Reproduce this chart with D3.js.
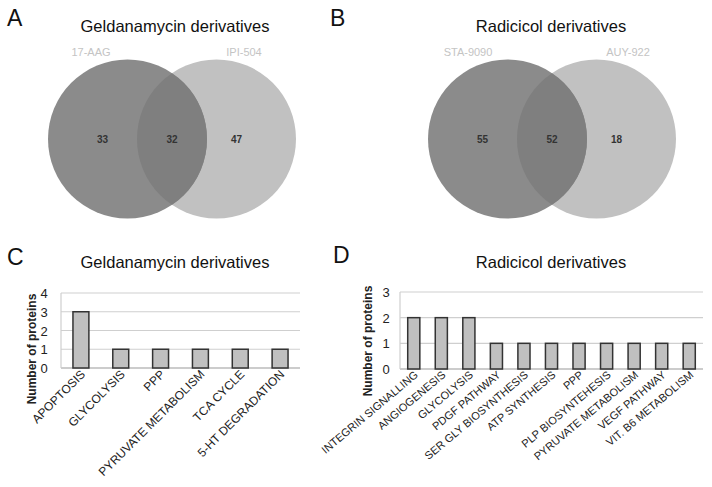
<!DOCTYPE html>
<html><head><meta charset="utf-8">
<script src="https://cdn.jsdelivr.net/npm/d3@7"></script>
<style>body{margin:0;background:#fff}svg{display:block;font-family:Arial,"Liberation Sans",sans-serif}</style>
</head><body><svg id="c" width="712" height="487"></svg>
<script>
// Venn data
const vennA = {title:"Geldanamycin derivatives", sets:["17-AAG","IPI-504"], counts:[33,32,47]};
const vennB = {title:"Radicicol derivatives", sets:["STA-9090","AUY-922"], counts:[55,52,18]};
// Bar data
const catsC = ["APOPTOSIS","GLYCOLYSIS","PPP","PYRUVATE METABOLISM","TCA CYCLE","5-HT DEGRADATION"];
const valsC = [3,1,1,1,1,1];
const ticksC = [0,1,2,3,4];
const catsD = ["INTEGRIN SIGNALLING","ANGIOGENESIS","GLYCOLYSIS","PDGF PATHWAY","SER GLY BIOSYNTHESIS","ATP SYNTHESIS","PPP","PLP BIOSYNTEHESIS","PYRUVATE METABOLISM","VEGF PATHWAY","VIT. B6 METABOLISM"];
const valsD = [2,2,2,1,1,1,1,1,1,1,1];
const ticksD = [0,1,2,3];

const svg = d3.select("#c");

// panel letters
[["A",7,26],["B",330,26],["C",7,265],["D",333,263]].forEach(([t,x,y])=>{
  svg.append("text").attr("x",x).attr("y",y).attr("font-size",23).attr("fill","#111").text(t);
});

function venn(d, cx, titleX, setX){
  const g = svg.append("g");
  g.append("text").attr("x",titleX).attr("y",32).attr("text-anchor","middle").attr("font-size",16.5).attr("fill","#111").text(d.title);
  const r = 79.5, cy = 139, dx = 89;
  const c1 = cx - dx/2, c2 = cx + dx/2;
  const id = "clip"+Math.round(cx);
  g.append("clipPath").attr("id",id).append("circle").attr("cx",c2).attr("cy",cy).attr("r",r);
  g.append("circle").attr("cx",c2).attr("cy",cy).attr("r",r).attr("fill","#c1c1c1");
  g.append("circle").attr("cx",c1).attr("cy",cy).attr("r",r).attr("fill","#8b8b8b");
  g.append("circle").attr("cx",c1).attr("cy",cy).attr("r",r).attr("fill","#7f7f7f").attr("clip-path",`url(#${id})`);
  g.append("text").attr("x",setX[0]).attr("y",56).attr("text-anchor","middle").attr("font-size",11).attr("fill","#c4c4c4").text(d.sets[0]);
  g.append("text").attr("x",setX[1]).attr("y",56).attr("text-anchor","middle").attr("font-size",11).attr("fill","#c4c4c4").text(d.sets[1]);
  const nx = [c1 - 25, cx, c2 + 20];
  d.counts.forEach((v,i)=>{
    g.append("text").attr("x",nx[i]).attr("y",cy+4).attr("text-anchor","middle").attr("font-size",10).attr("font-weight","bold").attr("fill","#333").text(v);
  });
}
venn(vennA, 172, 175, [91, 244]);
venn(vennB, 552, 551, [468, 628]);

function bars(title, titleX, cats, vals, ticks, x0, x1, yTop, yBot, ylabX, ylabY, barPad, tickX, labFont, labAngle){
  const g = svg.append("g");
  g.append("text").attr("x",titleX).attr("y",268).attr("text-anchor","middle").attr("font-size",16.5).attr("fill","#111").text(title);
  const x = d3.scaleBand().domain(cats).range([x0,x1]).paddingInner(barPad).paddingOuter(barPad/2);
  const y = d3.scaleLinear().domain([0, d3.max(ticks)]).range([yBot,yTop]);
  ticks.forEach(t=>{
    g.append("line").attr("x1",x0).attr("x2",x1).attr("y1",y(t)).attr("y2",y(t)).attr("stroke",t===0?"#9a9a9a":"#cfcfcf").attr("stroke-width",1.2);
    g.append("text").attr("x",tickX).attr("y",y(t)+5).attr("text-anchor","middle").attr("font-size",13).attr("fill","#222").text(t);
  });
  g.append("line").attr("x1",x0).attr("x2",x0).attr("y1",yTop).attr("y2",yBot).attr("stroke","#cfcfcf").attr("stroke-width",1.2);
  g.selectAll("rect.b").data(cats).enter().append("rect")
    .attr("x",d=>x(d)).attr("width",x.bandwidth())
    .attr("y",(d,i)=>y(vals[i])).attr("height",(d,i)=>yBot - y(vals[i]))
    .attr("fill","#c0c0c0").attr("stroke","#333").attr("stroke-width",1.5);
  cats.forEach(c=>{
    const cxp = x(c)+x.bandwidth()/2 + 5;
    g.append("text").attr("transform",`translate(${cxp},${yBot+7}) rotate(${-labAngle})`)
      .attr("text-anchor","end").attr("font-size",labFont).attr("fill","#222").text(c);
  });
  g.append("text").attr("transform",`translate(${ylabX},${ylabY}) rotate(-90)`)
    .attr("text-anchor","middle").attr("font-size",12).attr("font-weight","bold").attr("fill","#222").text("Number of proteins");
}
bars("Geldanamycin derivatives", 175, catsC, valsC, ticksC, 61, 300, 293, 368, 36, 349, 0.6, 44, 12, 45);
bars("Radicicol derivatives", 551, catsD, valsD, ticksD, 400, 703, 292, 369, 372, 341, 0.56, 386, 11, 40);
</script></body></html>
